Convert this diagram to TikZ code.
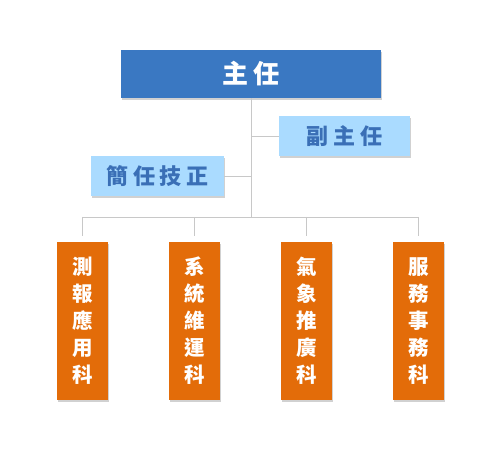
\documentclass[tikz,border=0pt]{standalone}
\usepackage{fontspec}
\newfontfamily\cjk{Noto Sans CJK TC}
\usetikzlibrary{shadows}

\definecolor{chiefblue}{HTML}{3A78C2}
\definecolor{paleblue}{HTML}{AADBFF}
\definecolor{inkblue}{HTML}{3A6FB6}
\definecolor{deptorange}{HTML}{E36C09}
\definecolor{linegray}{HTML}{C8C8C8}

\begin{document}
\begin{tikzpicture}[x=1pt, y=1pt, font=\cjk\bfseries]
  \tikzstyle{shad} = [drop shadow={shadow xshift=0.6pt, shadow yshift=-2pt,
                      fill=black!40, opacity=0.45}]
  \tikzstyle{chief} = [shad, fill=chiefblue, text=white, inner sep=0pt,
                       minimum width=260pt, minimum height=48pt,
                       font=\cjk\bfseries\fontsize{26}{26}\selectfont\addfontfeatures{LetterSpace=20}]
  \tikzstyle{staff} = [shad, fill=paleblue, text=inkblue, inner sep=0pt,
                       minimum height=40pt,
                       font=\cjk\bfseries\fontsize{22}{22}\selectfont\addfontfeatures{LetterSpace=22}]
  \tikzstyle{dept} = [shad, fill=deptorange, text=white, inner sep=0pt,
                      minimum width=51pt, minimum height=158pt, align=center,
                      font=\cjk\bfseries\fontsize{20.5}{27}\selectfont]
  \tikzstyle{link} = [draw=linegray, line width=0.9pt]

  \useasboundingbox (0,0) rectangle (500,450);

  % top of the chart
  \node[chief] (head) at (251,376) {主任};

  % staff nodes on either side of the trunk
  \node[staff, minimum width=131pt] (deputy) at (344.5,314) {副主任};
  \node[staff, minimum width=133pt] (tech) at (157.5,274) {簡任技正};

  % the four sections
  \node[dept] (sec1) at (82.5,129)  {測\\報\\應\\用\\科};
  \node[dept] (sec2) at (194.5,129) {系\\統\\維\\運\\科};
  \node[dept] (sec3) at (306.5,129) {氣\\象\\推\\廣\\科};
  \node[dept] (sec4) at (418.5,129) {服\\務\\事\\務\\科};

  % trunk and bus
  \coordinate (bus) at (251,233);
  \draw[link] (head.south) -- (bus);
  \draw[link] (deputy.west) -- (deputy.west -| head.south);
  \draw[link] (tech.east) -- (tech.east -| head.south);
  \draw[link] (sec1.north |- bus) -- (sec4.north |- bus);

  % short drops, stopping just above each section
  \draw[link] (sec1.north |- bus) -- ([yshift=6pt]sec1.north);
  \draw[link] (sec2.north |- bus) -- ([yshift=6pt]sec2.north);
  \draw[link] (sec3.north |- bus) -- ([yshift=6pt]sec3.north);
  \draw[link] (sec4.north |- bus) -- ([yshift=6pt]sec4.north);
\end{tikzpicture}
\end{document}
